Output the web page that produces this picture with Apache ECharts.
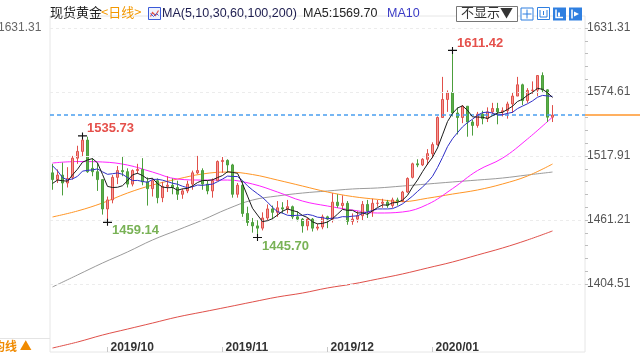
<!DOCTYPE html>
<html><head><meta charset="utf-8">
<script src="https://cdn.jsdelivr.net/npm/echarts@6/dist/echarts.min.js"></script>
<style>html,body{margin:0;padding:0;background:#fff}#c{width:640px;height:360px}</style>
</head><body><div id="c"></div>
<script>
// ---------- data ----------
const dates = [
 '2019/09/16','2019/09/17','2019/09/18','2019/09/19','2019/09/20','2019/09/23','2019/09/24','2019/09/25','2019/09/26','2019/09/27','2019/09/30',
 '2019/10/01','2019/10/02','2019/10/03','2019/10/04','2019/10/07','2019/10/08','2019/10/09','2019/10/10','2019/10/11','2019/10/14','2019/10/15','2019/10/16','2019/10/17','2019/10/18','2019/10/21','2019/10/22','2019/10/23','2019/10/24','2019/10/25','2019/10/28','2019/10/29','2019/10/30','2019/10/31',
 '2019/11/01','2019/11/04','2019/11/05','2019/11/06','2019/11/07','2019/11/08','2019/11/11','2019/11/12','2019/11/13','2019/11/14','2019/11/15','2019/11/18','2019/11/19','2019/11/20','2019/11/21','2019/11/22','2019/11/25','2019/11/26','2019/11/27','2019/11/28','2019/11/29',
 '2019/12/02','2019/12/03','2019/12/04','2019/12/05','2019/12/06','2019/12/09','2019/12/10','2019/12/11','2019/12/12','2019/12/13','2019/12/16','2019/12/17','2019/12/18','2019/12/19','2019/12/20','2019/12/23','2019/12/24','2019/12/26','2019/12/27','2019/12/30','2019/12/31',
 '2020/01/02','2020/01/03','2020/01/06','2020/01/07','2020/01/08','2020/01/09','2020/01/10','2020/01/13','2020/01/14','2020/01/15','2020/01/16','2020/01/17','2020/01/20','2020/01/21','2020/01/22','2020/01/23','2020/01/24','2020/01/27','2020/01/28','2020/01/29','2020/01/30','2020/01/31',
 '2020/02/03','2020/02/04','2020/02/05'
];
const opens = [1503,1497,1501,1494,1499,1516,1522,1532,1507,1504,1497,
 1471,1479,1499,1505,1504,1493,1505,1506,1495,1489,1496,1481,1491,1492,1490,1484,1487,1493,1503,1505,1493,1487,1496,
 1513,1514,1510,1484,1492,1467,1459,1456,1454,1463,1471,1468,1472,1471,1473,1464,1462,1456,1462,1454,1455,
 1464,1462,1477,1474,1476,1460,1462,1465,1475,1469,1476,1476,1477,1474,1479,1478,1486,1499,1511,1510,1515,
 1520,1528,1552,1568,1574,1556,1552,1562,1548,1545,1555,1551,1557,1560,1557,1558,1564,1571,1581,1567,1576,1576.3,
 1589.2,1576.5,1552.3];
const highs = [1511,1506,1512,1508,1518,1527,1535.73,1535,1516,1512,1497,
 1482,1501,1509,1517,1507,1506,1511,1516,1499,1498,1498,1495,1500,1498,1496,1489,1496,1505,1518,1507,1496,1498,1514,
 1517,1515,1511,1494,1496,1473,1463,1461,1468,1475,1474,1478,1477,1479,1474,1469,1463,1463,1463,1458,1466,
 1465,1485,1484,1483,1478,1467,1469,1478,1479,1480,1479,1480,1479,1481,1481,1487,1499,1512,1515,1516,1524,
 1530,1553,1588,1576,1611.42,1561,1563,1562,1550,1557,1558,1561,1565,1565,1561,1566,1574,1588,1582,1578,1584,1589.5,
 1592,1577,1563];
const lows = [1488,1494,1483,1490,1497,1511,1517,1503,1500,1487,1466,
 1459.14,1476,1493,1500,1490,1491,1502,1492,1474,1482,1476,1477,1486,1484,1479,1480,1485,1488,1502,1488,1484,1481,1496,
 1503,1503,1481,1481,1464,1456,1450,1445.70,1452,1461,1462,1464,1467,1467,1462,1460,1450,1452,1451,1452,1453,
 1454,1459,1472,1471,1457,1457,1459,1461,1463,1464,1473,1472,1472,1472,1474,1477,1485,1498,1508,1509,1510,
 1516,1527,1552,1557,1553,1537,1547,1535,1536,1543,1546,1548,1555,1546,1553,1551,1556,1571,1563,1565,1573,1571,
 1574,1548,1548];
const closes = [1497,1501,1494,1498,1516,1522,1532,1504,1504,1497,1471,
 1479,1499,1505,1504,1493,1505,1506,1495,1489,1496,1481,1491,1492,1490,1484,1487,1493,1503,1505,1493,1487,1496,1513,
 1514,1510,1484,1492,1467,1459,1456,1454,1463,1471,1468,1472,1471,1473,1464,1462,1456,1462,1454,1455,1464,
 1462,1477,1474,1476,1460,1462,1465,1475,1469,1476,1476,1477,1474,1479,1478,1486,1498,1511,1510,1515,1520,
 1528,1552,1568,1574,1556,1552,1562,1548,1545,1555,1551,1557,1560,1557,1558,1564,1571,1581,1567,1576,1576.3,1589.2,
 1576.5,1552.3,1554.2];
// closes just before the window (only needed to start MA5 / MA10)
const earlierCloses = [1547,1553,1519,1507,1499,1486,1497,1500,1488];
// long moving averages, every 5th session
const maSampleIdx = [0,5,10,15,20,25,30,35,40,45,50,55,60,65,70,75,80,85,90,95,100];
const ma30Read  = [1511.7,1513.0,1512.6,1509.9,1503.7,1497.5,1496.6,1496.6,1493.1,1486.0,1478.0,1473.6,1470.0,1467.4,1468.3,1475.0,1489.0,1505.0,1516.0,1533.0,1552.4];
const ma60Read  = [1463.9,1469.2,1476.3,1485.1,1492.2,1497.5,1502.0,1503.7,1501.5,1496.6,1491.3,1486.0,1482.0,1479.5,1477.5,1480.5,1484.2,1487.8,1493.1,1500.2,1510.8];
const ma100Read = [1401.9,1412.5,1423.1,1432.9,1443.5,1452.3,1461.2,1471.0,1478.9,1482.5,1485.1,1486.9,1488.7,1489.6,1491.3,1493.1,1494.9,1496.6,1498.4,1501.1,1503.7];
const ma200Read = [1347.8,1353.1,1359.3,1364.6,1369.9,1375.3,1379.7,1384.1,1388.6,1393.0,1396.5,1401.0,1404.5,1408.9,1413.4,1418.7,1424.0,1430.2,1436.4,1443.5,1451.5];
const yTickLabels = [1404.51,1461.21,1517.91,1574.61,1631.31];
const monthLabels = ['2019/10','2019/11','2019/12','2020/01'];
const highMarks = [{date:'2019/09/24', val:1535.73},{date:'2020/01/08', val:1611.42}];
const lowMarks  = [{date:'2019/10/01', val:1459.14},{date:'2019/11/12', val:1445.70}];
const emptySlots = 6;

// ---------- build ----------
const cats = dates.concat(Array(emptySlots).fill(''));
const allC = earlierCloses.concat(closes);
function ma(n){
  return closes.map((_,i)=>{
    const end = i + earlierCloses.length;
    if (end - n + 1 < 0) return null;
    let s = 0; for (let k = end-n+1; k <= end; k++) s += allC[k];
    return +(s/n).toFixed(2);
  });
}
function sparse(vals){
  const a = new Array(dates.length).fill(null);
  maSampleIdx.forEach((ix,k)=>{ a[ix] = vals[k]; });
  return a;
}
const ma5 = ma(5), ma10 = ma(10);
const kData = dates.map((d,i)=>[opens[i], closes[i], lows[i], highs[i]]);
const isMonthStart = cats.map((d,i)=> i>0 && d!=='' && d.slice(0,7)!==cats[i-1].slice(0,7) && monthLabels.indexOf(d.slice(0,7))>=0);
const minorTicks = [];
for (let k=0;k<yTickLabels.length-1;k++){
  const a=yTickLabels[k], b=yTickLabels[k+1];
  for (let j=0;j<5;j++) minorTicks.push(+(a+(b-a)*j/5).toFixed(2));
}
minorTicks.push(yTickLabels[yTickLabels.length-1]);
const lastClose = closes[closes.length-1];

const gridTop = 16, gridBottomPx = 352, gridLeft = 50, gridRightPx = 585;
const yMax = 1641.94, yMin = 1344.27;

const crossPath = 'path://M0,4.4H10V5.6H0Z M4.4,1.5H5.6V8.5H4.4Z';
function markItems(list, isHigh){
  return list.map(m=>({
    coord:[dates.indexOf(m.date), m.val], value:m.val,
    symbol: crossPath, symbolSize:[9,7], itemStyle:{color:'#111'},
    label:{show:true, formatter:m.val.toFixed(2), position: isHigh?[9,-4]:[9,12],
      align:'left', verticalAlign:'middle', color: isHigh?'#e5504b':'#79b256',
      fontSize:13, fontWeight:'bold', fontFamily:'Liberation Sans, Arial, sans-serif'}
  }));
}
const lineBase = {type:'line', showSymbol:false, symbol:'none', silent:true, z:3};
const font = 'Liberation Sans, Arial, sans-serif';
const cjk = 'Noto Sans CJK SC, sans-serif';

const chart = echarts.init(document.getElementById('c'), null, {renderer:'canvas'});
chart.setOption({
  animation:false,
  backgroundColor:'#fff',
  grid:{left:gridLeft, right:640-gridRightPx, top:gridTop, bottom:360-gridBottomPx, show:true, borderColor:'#e6e6e6', borderWidth:1},
  xAxis:{type:'category', data:cats, boundaryGap:true,
    axisLine:{show:false},
    axisTick:{show:true, inside:true, alignWithLabel:true, length:5, interval:(i)=>isMonthStart[i], lineStyle:{color:'#c8c8c8'}},
    axisLabel:{inside:true, margin:-2, interval:(i)=>isMonthStart[i], formatter:(v)=>v.slice(0,7), align:'left', padding:[0,0,0,3],
      color:'#333', fontSize:12, fontWeight:'bold', fontFamily:font},
    splitLine:{show:false}},
  yAxis:{type:'value', position:'right', min:yMin, max:yMax, scale:true,
    axisLine:{show:false},
    axisTick:{show:true, length:3, customValues:minorTicks, lineStyle:{color:'#bdbdbd'}},
    axisLabel:{customValues:yTickLabels, formatter:(v)=>v.toFixed(2), margin:2, color:'#555', fontSize:12, fontFamily:font},
    splitLine:{show:false}},
  series:[
    {name:'grid', type:'line', data:[], silent:true,
     markLine:{silent:true, symbol:'none', label:{show:false}, lineStyle:{color:'#ececec', type:[3,3], width:1},
       data: yTickLabels.map(v=>({yAxis:v}))}},
    Object.assign({name:'MA200', data:sparse(ma200Read), connectNulls:true, smooth:0.4, lineStyle:{color:'#e0504a', width:1}}, lineBase),
    Object.assign({name:'MA100', data:sparse(ma100Read), connectNulls:true, smooth:0.4, lineStyle:{color:'#9b9b9b', width:1}}, lineBase),
    Object.assign({name:'MA60', data:sparse(ma60Read), connectNulls:true, smooth:0.4, lineStyle:{color:'#ff9626', width:1}}, lineBase),
    Object.assign({name:'MA30', data:sparse(ma30Read), connectNulls:true, smooth:0.4, lineStyle:{color:'#ff22ff', width:1}}, lineBase),
    {name:'K', type:'candlestick', data:kData, barWidth:'64%', z:4,
     itemStyle:{color:'#f29a96', color0:'#5aae48', borderColor:'#e0504a', borderColor0:'#4c9e3c', borderWidth:1},
     markLine:{silent:true, symbol:'none', label:{show:false}, lineStyle:{color:'#4a9ff0', type:[4,3], width:1.6},
       data:[{yAxis:lastClose}]},
     markPoint:{silent:true, data: markItems(highMarks,true).concat(markItems(lowMarks,false))}},
    Object.assign({name:'MA10', data:ma10, lineStyle:{color:'#2f2fc8', width:1}}, lineBase, {z:5}),
    Object.assign({name:'MA5', data:ma5, lineStyle:{color:'#1c1c1c', width:1}}, lineBase, {z:6})
  ]
});

const ma5Last = ma5[ma5.length-1];
const yLast = chart.convertToPixel({yAxisIndex:0}, lastClose);
chart.setOption({graphic:[
  {type:'text', left:50, top:6, style:{text:'现货黄金', fontSize:13, fontFamily:cjk, fill:'#222'}},
  {type:'text', left:101, top:6, style:{text:'<日线>', fontSize:13, fontFamily:cjk, fill:'#f39800'}},
  {type:'group', left:148, top:7, children:[
    {type:'rect', shape:{x:0,y:0,width:12,height:12}, style:{fill:'#eef2fd', stroke:'#3a5ad8', lineWidth:1}},
    {type:'polyline', shape:{points:[[2,9],[4,5],[7,8],[10,3]]}, style:{stroke:'#e0504a', lineWidth:1.2, fill:null}},
    {type:'polyline', shape:{points:[[2,6],[5,9],[8,6],[10,8]]}, style:{stroke:'#3a5ad8', lineWidth:1, fill:null}}
  ]},
  {type:'text', left:162, top:7, style:{text:'MA(5,10,30,60,100,200)', fontSize:12.5, fontFamily:font, fill:'#1d1d4f'}},
  {type:'text', left:303, top:7, style:{text:'MA5:'+ma5Last.toFixed(2), fontSize:12.5, fontFamily:font, fill:'#222'}},
  {type:'text', left:387, top:7, style:{text:'MA10', fontSize:12.5, fontFamily:font, fill:'#3b3bc6'}},
  {type:'rect', shape:{x:456.5,y:6.5,width:61,height:15}, style:{fill:'#fff', stroke:'#777', lineWidth:1}},
  {type:'text', left:461, top:6, style:{text:'不显示▼', fontSize:13, fontFamily:cjk, fill:'#333'}},
  {type:'group', left:520, top:7, children:[
    {type:'rect', shape:{x:0.5,y:0.5,width:12,height:12}, style:{fill:'#fff', stroke:'#2f7fe0'}},
    {type:'line', shape:{x1:6.5,y1:2,x2:6.5,y2:11}, style:{stroke:'#2f7fe0'}},
    {type:'line', shape:{x1:2,y1:6.5,x2:11,y2:6.5}, style:{stroke:'#2f7fe0'}}
  ]},
  {type:'group', left:537, top:7, children:[
    {type:'rect', shape:{x:0.5,y:0.5,width:12,height:12}, style:{fill:'#fff', stroke:'#2f7fe0'}},
    {type:'polyline', shape:{points:[[3,3],[3,10],[10,10],[10,3]]}, style:{stroke:'#2f7fe0', fill:null}},
    {type:'line', shape:{x1:6.5,y1:4,x2:6.5,y2:8}, style:{stroke:'#2f7fe0'}}
  ]},
  {type:'group', left:553, top:7, children:[
    {type:'rect', shape:{x:0,y:0,width:13,height:13}, style:{fill:'#2f7fe0'}},
    {type:'polyline', shape:{points:[[3,2],[3,10],[10,10]]}, style:{stroke:'#fff', lineWidth:1.5, fill:null}},
    {type:'rect', shape:{x:5,y:5,width:2,height:4}, style:{fill:'#fff'}}
  ]},
  {type:'group', left:569, top:7, children:[
    {type:'rect', shape:{x:0,y:0,width:13,height:13}, style:{fill:'#2f7fe0'}},
    {type:'line', shape:{x1:3,y1:2,x2:3,y2:11}, style:{stroke:'#fff', lineWidth:1.5}},
    {type:'polygon', shape:{points:[[5,4],[10,6.5],[5,9]]}, style:{fill:'#fff'}}
  ]},
  {type:'text', left:-2, top:22, style:{text:'1631.31', fontSize:12, fontFamily:font, fill:'#666'}},
  {type:'line', shape:{x1:gridRightPx, y1:yLast, x2:640, y2:yLast}, style:{stroke:'#ffb060', lineWidth:2}},
  {type:'line', shape:{x1:0, y1:338.5, x2:gridLeft, y2:338.5}, style:{stroke:'#e4e4e4', lineWidth:1}},
  {type:'text', left:-7, top:340, style:{text:'均线 ▲', fontSize:12, fontWeight:'bold', fontFamily:cjk, fill:'#f08a00'}}
]});
</script></body></html>
